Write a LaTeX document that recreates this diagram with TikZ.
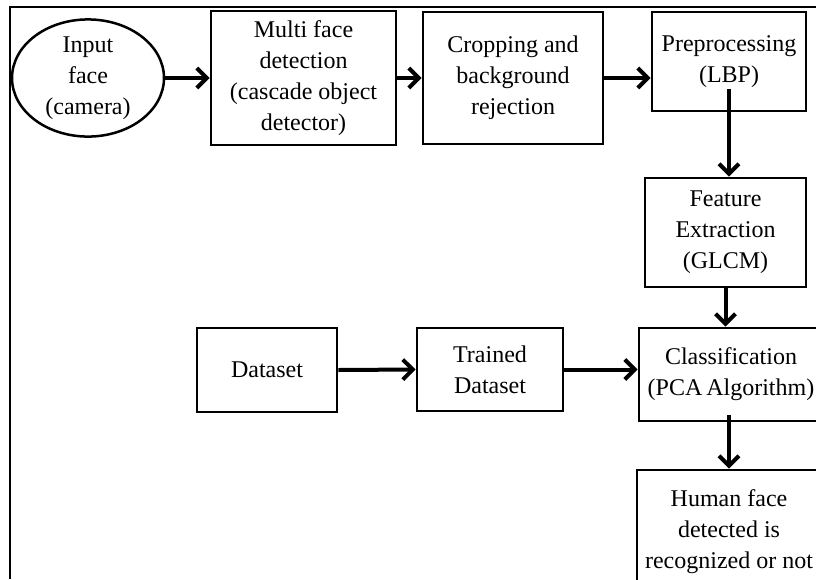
\documentclass[tikz,border=0pt]{standalone}
\usepackage{fontspec}
\setmainfont{Liberation Serif}
\usetikzlibrary{arrows.meta,shapes.geometric}
\begin{document}
\begin{tikzpicture}[x=1pt,y=-1pt,
  every node/.style={font=\fontsize{24}{31}\selectfont, align=center, text=black},
  box/.style={draw=black, line width=2.8pt, rectangle, inner sep=0pt},
  oval/.style={draw=black, line width=2.5pt, ellipse, inner sep=0pt},
  flow/.style={line width=4pt, -{Straight Barb[length=10pt,width=20pt,line width=4pt]}},
  frame/.style={line width=2.8pt}]
\useasboundingbox (0,0) rectangle (816,579);
\fill[white] (0,0) rectangle (816,579);
% outer frame
\coordinate (fa) at (10,579);
\coordinate (fb) at (10,7);
\coordinate (fc) at (816,7);
\draw[frame] (fa) -- (fb) -- (fc);
% nodes
\node[oval, minimum width=152, minimum height=117] (inp) at (88,78) {Input\\face\\(camera)};
\node[box, minimum width=185, minimum height=134] (multi) at (303.5,78) {Multi face\\detection\\(cascade object\\detector)};
\node[box, minimum width=180, minimum height=132] (crop) at (513,78) {Cropping and\\background\\rejection};
\node[box, minimum width=154, minimum height=99] (prep) at (729,61.5) {Preprocessing\\(LBP)};
\node[box, minimum width=161, minimum height=109] (feat) at (725.5,232.5) {Feature\\Extraction\\(GLCM)};
\node[box, minimum width=184, minimum height=93] (cls) at (731,374.5) {Classification\\(PCA\,Algorithm)};
\node[box, minimum width=184, minimum height=124] (hum) at (729,532) {Human face\\detected is\\recognized or not};
\node[box, minimum width=140, minimum height=84] (data) at (267,370) {Dataset};
\node[box, minimum width=146, minimum height=83] (train) at (490,369.5) {Trained\\Dataset};
% connectors
\draw[flow] (inp.east) -- (multi.west);
\draw[flow] (multi.east) -- (crop.west);
\draw[flow] (crop.east) -- (crop.east -| prep.west);
\draw[flow] ([yshift=-27pt]prep.center) -- (prep.center |- feat.north);
\draw[flow] ([yshift=7pt, xshift=-2pt]cls.south) -- ([xshift=-2pt]cls.south |- hum.north);
\draw[flow] (feat.south) -- (feat.south |- cls.north);
\draw[flow] (data.east) -- (train.west);
\draw[flow] (train.east) -- (train.east -| cls.west);
\end{tikzpicture}
\end{document}
